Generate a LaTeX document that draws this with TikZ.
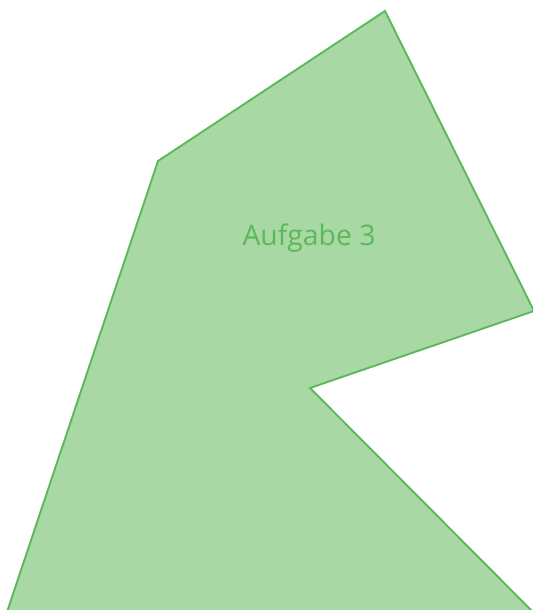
\documentclass[tikz,border=0pt]{standalone}
\usepackage{fontspec}
\setmainfont{Open Sans}
\definecolor{shapefill}{HTML}{A8D8A4}
\definecolor{shapeline}{HTML}{5DB85B}
\tikzset{area/.style={fill=shapefill,draw=shapeline,line width=1.9pt,line join=miter},
  lbl/.style={text=shapeline,font=\fontsize{28.3}{32}\selectfont,inner sep=0pt}}
\begin{document}
\begin{tikzpicture}[x=1pt,y=-1pt]
\useasboundingbox (0,0) rectangle (533,610);
\begin{scope}
\clip (0,0) rectangle (533,610);
\coordinate (p1) at (385,11);
\coordinate (p2) at (534,311);
\coordinate (p3) at (310,388);
\coordinate (p4) at (536,615);
\coordinate (p5) at (6,615);
\coordinate (p6) at (158,161);
\draw[area] (p1) -- (p2) -- (p3) -- (p4) -- (p5) -- (p6) -- cycle;
\end{scope}
\node[lbl] (t) at (309,238) {Aufgabe 3};
\end{tikzpicture}
\end{document}
